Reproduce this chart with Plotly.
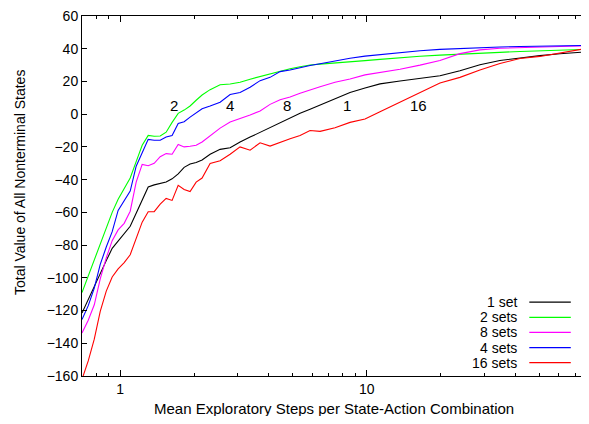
import math
import plotly.graph_objects as go

# Mean exploratory steps per state-action combination (log axis)
steps = [0.70, 0.742, 0.785, 0.830, 0.878, 0.928, 0.981, 1.038, 1.098, 1.161,
         1.228, 1.299, 1.374, 1.453, 1.536, 1.624, 1.719, 1.817, 1.921, 2.033,
         2.149, 2.316, 2.543, 2.792, 3.064, 3.365, 3.694, 4.055, 4.453, 4.888,
         5.366, 5.891, 6.468, 7.437, 8.556, 9.842, 11.32, 13.65, 16.45, 19.82,
         23.89, 28.79, 34.70, 41.82, 50.41, 60.74, 76.7]

set1 = [-121.5, -113, -105, -97, -89.5, -82, -77.6, -73, -68.5, -60.5,
        -52, -44.5, -43.2, -42.5, -41.5, -39.5, -36.5, -32.5, -30.5, -29.5,
        -28, -24.5, -21.5, -20.5, -17, -14, -11, -8, -5, -2,
        0.5, 3, 5.5, 9.5, 13.3, 16, 18.5, 20.3, 22, 23.5,
        26.5, 30.2, 32.8, 34.5, 35.8, 36.9, 38.0]

set2 = [-109, -99, -90, -80, -70, -60, -52, -45.5, -39, -29,
        -19, -13, -13.5, -13.3, -11, -5, 0.5, 2.5, 5, 8.5,
        11.7, 15, 18, 18.4, 19.5, 21.4, 23, 25, 26.5, 27.8,
        29, 30.1, 30.6, 31.2, 32, 32.7, 33.5, 34.6, 35.4, 36.1,
        36.8, 37.3, 37.8, 38.3, 38.8, 39.2, 39.6]

set8 = [-133.7, -125.9, -116.5, -100.7, -87.8, -77.3, -70.7, -66.7, -59.3, -41.5,
        -30.7, -31.5, -30, -26, -24.1, -24.5, -18.5, -20, -19.6, -19,
        -17, -13, -8.5, -4.8, -2.8, -0.5, 2, 6, 8.8, 10.5,
        12.8, 15, 16.8, 19.5, 21.5, 24, 25.5, 27.5, 30, 32.8,
        37.0, 39.3, 40.3, 40.8, 41.1, 41.4, 41.7]

set4 = [-125.5, -117, -106.3, -91.8, -81.2, -71.8, -58.8, -53, -47, -31.8,
        -23.6, -15.4, -15.9, -15.9, -14, -13, -5.7, -4.6, -1.8, 0.8,
        3.3, 5, 7.3, 12, 13.3, 16.5, 20.5, 22.5, 26, 27,
        28.5, 29.7, 30.8, 32.6, 34.2, 35.5, 36.5, 37.8, 38.8, 39.6,
        40.2, 40.7, 41.1, 41.4, 41.6, 41.8, 42.0]

set16 = [-162, -150.8, -137.5, -120.5, -108.1, -99.5, -94.5, -90.7, -85.9, -76,
         -66, -59.6, -59.6, -55, -51.5, -52.7, -43.5, -46, -47.3, -41.5,
         -39, -30.1, -28.5, -24.5, -20, -22, -17.5, -19.5, -17, -15,
         -13, -10, -10.5, -8.3, -5, -3, 1.5, 7.3, 13, 19,
         22.5, 27, 31, 34, 35.3, 37.5, 40.0]

series_names = ["1 set", "2 sets", "8 sets", "4 sets", "16 sets"]
series_values = [set1, set2, set8, set4, set16]
series_colors = ["#000000", "#00ff00", "#ff00ff", "#0000ff", "#ff0000"]

# in-plot curve labels
label_texts = ["2", "4", "8", "1", "16"]
label_x = [1.66, 2.79, 4.74, 8.30, 16.19]
label_y = [5.5, 5.5, 5.5, 5.5, 5.5]

y_ticks = list(range(-160, 61, 20))
x_major = [1, 10]
x_minor = [0.8, 0.9, 2, 3, 4, 5, 6, 7, 8, 9, 20, 30, 40, 50, 60, 70]

x_title = "Mean Exploratory Steps per State-Action Combination"
y_title = "Total Value of All Nonterminal States"

FONT = "Liberation Sans, Arial, Helvetica, sans-serif"

fig = go.Figure()
for name, vals, col in zip(series_names, series_values, series_colors):
    fig.add_trace(go.Scatter(x=steps, y=vals, mode="lines", name=name,
                             line=dict(color=col, width=1.1), showlegend=False))

for t, x, y in zip(label_texts, label_x, label_y):
    fig.add_annotation(x=math.log10(x), y=y, text=t, showarrow=False,
                       font=dict(family=FONT, size=15, color="#000000"),
                       xref="x", yref="y")

# gnuplot-style legend: right-aligned text followed by a line sample
leg_y0 = 0.205
leg_dy = 0.042
for i, (name, col) in enumerate(zip(series_names, series_colors)):
    yy = leg_y0 - i * leg_dy
    fig.add_annotation(x=0.8636, y=yy, xref="paper", yref="paper", text=name,
                       showarrow=False, xanchor="right", yanchor="middle",
                       font=dict(family=FONT, size=14, color="#000000"))
    fig.add_shape(type="line", xref="paper", yref="paper", x0=0.884, x1=0.966,
                  y0=yy, y1=yy, line=dict(color=col, width=1.3))

# axis titles
fig.add_annotation(x=0.498, y=0, xref="paper", yref="paper", text=x_title,
                   showarrow=False, xanchor="center", yanchor="top", yshift=-22,
                   font=dict(family=FONT, size=15, color="#000"))
fig.add_annotation(x=0, y=0.536, xref="paper", yref="paper", text=y_title,
                   showarrow=False, xanchor="center", yanchor="middle", xshift=-62,
                   textangle=-90, font=dict(family=FONT, size=14, color="#000"))

fig.update_xaxes(type="log", range=[-0.1549, 1.8976], automargin=False,
                 tickmode="array", tickvals=x_major, ticktext=["1", "10"],
                 ticks="inside", ticklen=6, tickwidth=1, tickcolor="#000",
                 minor=dict(tickmode="array", tickvals=x_minor, ticks="inside",
                            ticklen=3, tickwidth=1, tickcolor="#000", showgrid=False),
                 showline=True, linecolor="#000", linewidth=1, mirror="ticks",
                 showgrid=False, zeroline=False, ticklabeloverflow="allow",
                 tickfont=dict(family=FONT, size=14, color="#000"))
fig.update_yaxes(range=[-160, 60], automargin=False, tickmode="array", tickvals=y_ticks,
                 ticks="inside", ticklen=5, tickwidth=1, tickcolor="#000",
                 showline=True, linecolor="#000", linewidth=1, mirror="ticks",
                 showgrid=False, zeroline=False, ticklabeloverflow="allow",
                 tickfont=dict(family=FONT, size=14, color="#000"))

# sized so the figure plus the page's default 8px body margin fits the 589x424 window
fig.update_layout(width=581, height=408, autosize=False,
                  margin=dict(l=74, r=1, t=8, b=40),
                  plot_bgcolor="#ffffff", paper_bgcolor="#ffffff",
                  font=dict(family=FONT, size=14, color="#000"))

fig.write_html("out.html")
